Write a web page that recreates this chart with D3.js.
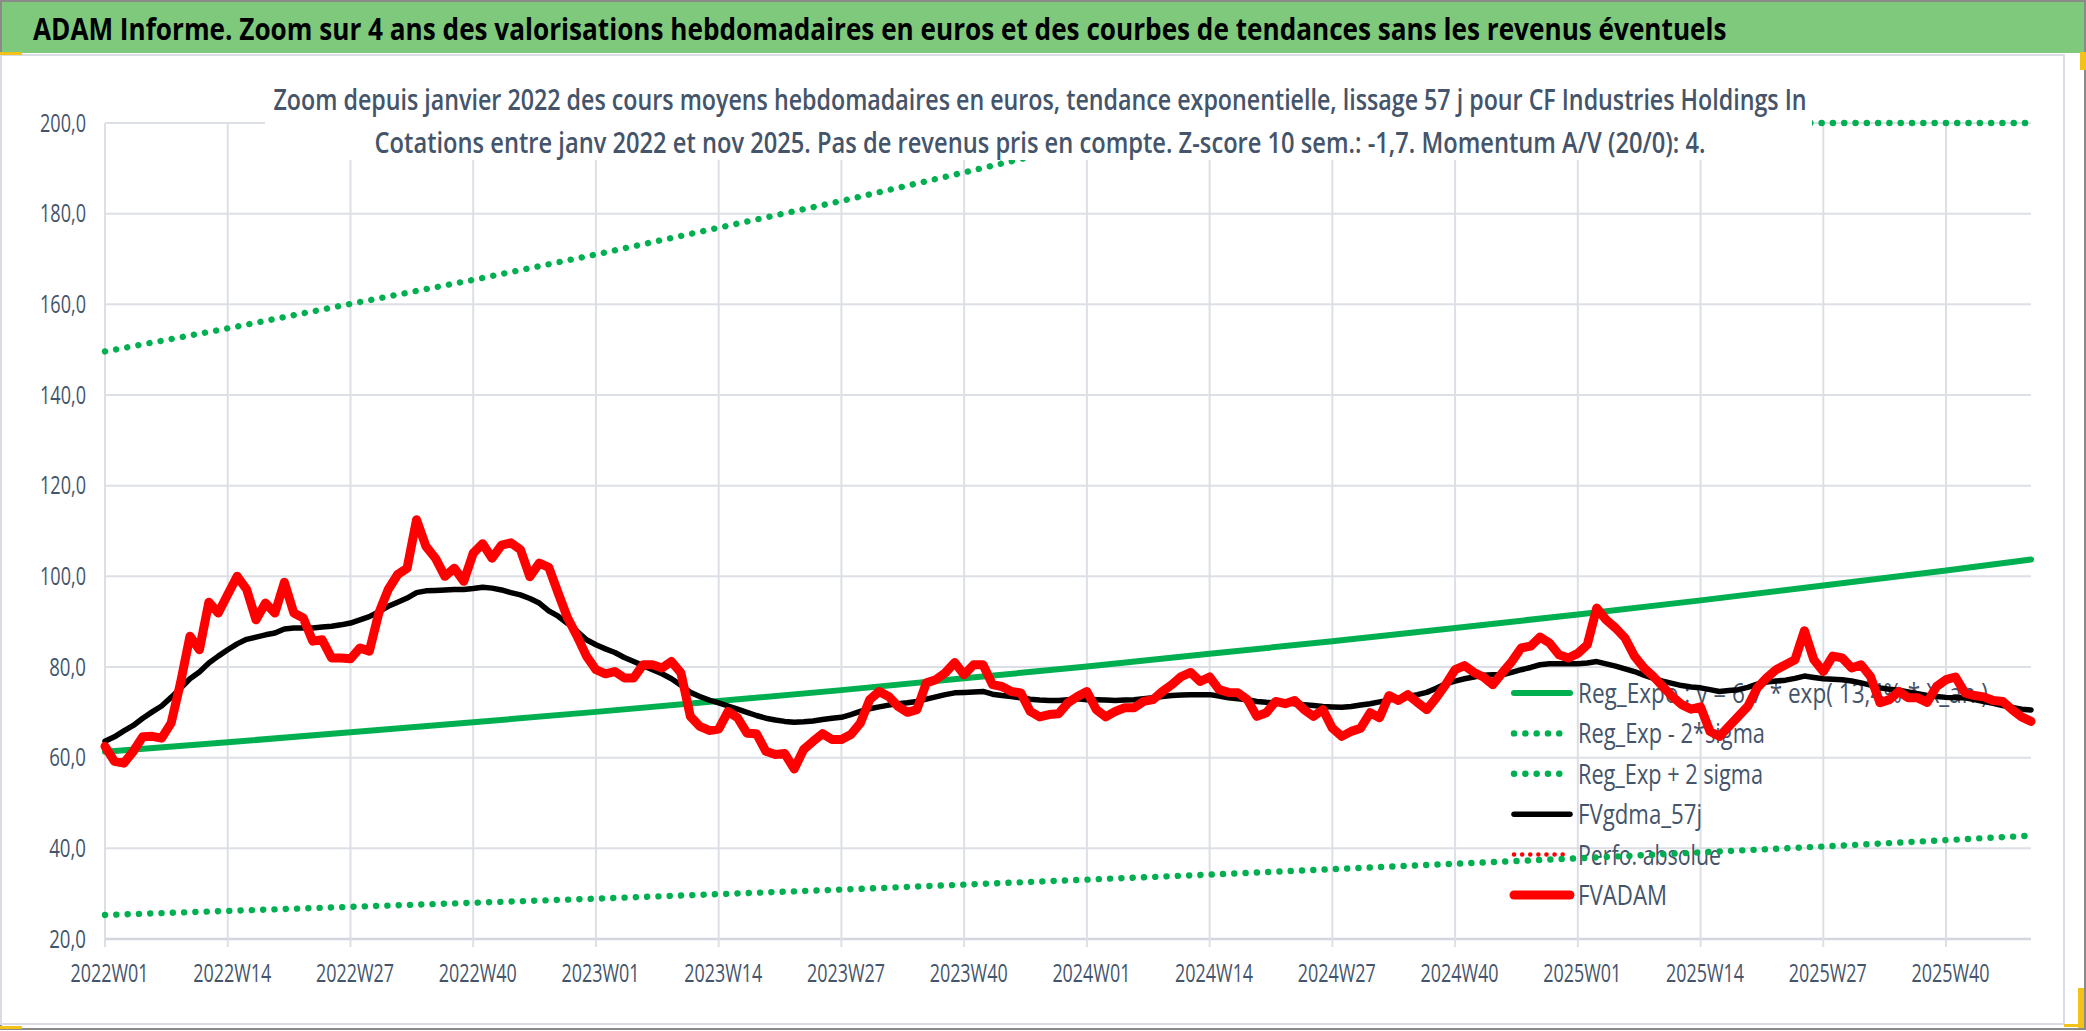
<!DOCTYPE html>
<html>
<head>
<meta charset="utf-8">
<script src="https://cdn.jsdelivr.net/npm/d3@7"></script>
<style>
  body { margin: 0; background: #fff; }
  text { font-family: "Liberation Sans Narrow", "Open Sans", sans-serif; }
</style>
</head>
<body>
<svg id="chart" width="2086" height="1031"></svg>
<script>

// categories: ISO weeks from 2022W01 to 2025W49
var years = [2022, 2023, 2024, 2025];
var weeksInYear = [52, 52, 52, 49];

var weeks = [];
years.forEach(function(yr, k) {
  for (var w = 1; w <= weeksInYear[k]; w++) {
    weeks.push(yr + "W" + (w < 10 ? "0" : "") + w);
  }
});

// tick labels on the category axis
var tickLabels = ["2022W01", "2022W14", "2022W27", "2022W40",
                  "2023W01", "2023W14", "2023W27", "2023W40",
                  "2024W01", "2024W14", "2024W27", "2024W40",
                  "2025W01", "2025W14", "2025W27", "2025W40"];

var yTicks = [20, 40, 60, 80, 100, 120, 140, 160, 180, 200];

// weekly valuation (FVADAM)
var fvadam = [62.5, 59.2, 58.8, 61.4, 64.6, 64.7, 64.3, 67.6, 76.5, 86.8,
              83.8, 94.3, 91.9, 96.0, 100.0, 97.1, 90.4, 94.1, 91.9, 98.7,
              91.9, 90.8, 85.7, 86.0, 82.0, 82.0, 81.8, 84.2, 83.5, 91.9,
              97.1, 100.4, 101.8, 112.5, 106.6, 104.0, 100.0, 101.8, 98.9, 105.1,
              107.2, 104.0, 106.9, 107.4, 105.9, 99.9, 102.9, 102.0, 96.3, 90.8,
              86.8, 82.4, 79.4, 78.5, 79.0, 77.6, 77.6, 80.5, 80.5, 79.8,
              81.2, 78.7, 69.1, 66.9, 66.0, 66.3, 70.2, 68.8, 65.4, 65.3,
              61.4, 60.7, 60.9, 57.5, 61.8, 63.6, 65.3, 64.0, 64.0, 65.1,
              67.6, 72.8, 74.6, 73.5, 71.3, 70.0, 70.6, 76.5, 77.2, 78.7,
              81.0, 78.3, 80.5, 80.5, 76.1, 75.7, 74.6, 74.3, 70.2, 69.0,
              69.5, 69.7, 72.1, 73.5, 74.6, 70.6, 69.0, 70.2, 71.0, 71.0,
              72.4, 72.8, 74.6, 76.1, 77.9, 78.8, 76.8, 77.8, 75.0, 74.4,
              74.3, 72.8, 69.1, 69.9, 72.4, 71.9, 72.6, 70.6, 69.1, 70.6,
              66.5, 64.7, 65.8, 66.5, 69.9, 68.8, 73.7, 72.6, 73.9, 72.2,
              70.6, 73.2, 76.1, 79.4, 80.3, 78.8, 77.8, 76.1, 78.7, 81.2,
              84.2, 84.6, 86.6, 85.3, 82.7, 82.0, 83.0, 84.9, 93.0, 90.4,
              88.6, 86.4, 82.4, 79.8, 77.9, 75.7, 73.5, 71.7, 70.7, 71.2,
              65.8, 64.7, 66.9, 69.1, 71.3, 75.4, 77.6, 79.4, 80.5, 81.6,
              88.0, 81.6, 79.0, 82.4, 82.0, 79.8, 80.5, 77.9, 72.1, 72.8,
              74.6, 73.2, 73.2, 72.2, 75.7, 77.2, 77.8, 74.3, 73.7, 73.4,
              72.6, 72.4, 70.6, 69.0, 68.0];

// smoothed 57 days (FVgdma_57j)
var fvgdma = [63.6, 64.6, 65.9, 67.1, 68.7, 70.1, 71.4, 73.3, 75.3, 77.4,
              78.9, 80.9, 82.4, 83.8, 85.1, 86.1, 86.6, 87.1, 87.5, 88.4,
              88.6, 88.6, 88.6, 88.8, 89.0, 89.3, 89.7, 90.4, 91.1, 92.2,
              93.4, 94.3, 95.2, 96.4, 96.8, 96.9, 97.0, 97.1, 97.1, 97.3,
              97.6, 97.4, 97.0, 96.4, 95.9, 95.1, 94.1, 92.4, 91.2, 89.6,
              87.9, 86.0, 84.9, 84.0, 83.2, 82.1, 81.2, 80.3, 79.4, 78.5,
              77.4, 76.0, 74.4, 73.5, 72.7, 72.1, 71.4, 70.7, 70.0, 69.3,
              68.7, 68.3, 68.0, 67.8, 67.9, 68.1, 68.4, 68.7, 68.9, 69.5,
              70.2, 70.8, 71.2, 71.6, 71.9, 72.1, 72.4, 72.9, 73.4, 73.9,
              74.3, 74.4, 74.5, 74.6, 74.0, 73.7, 73.5, 73.2, 72.9, 72.7,
              72.6, 72.6, 72.8, 73.0, 72.8, 72.8, 72.7, 72.6, 72.7, 72.8,
              73.0, 73.2, 73.5, 73.7, 73.8, 73.9, 73.9, 73.9, 73.6, 73.2,
              73.0, 72.8, 72.4, 72.2, 72.1, 72.1, 71.9, 71.7, 71.5, 71.3,
              71.2, 71.1, 71.3, 71.6, 71.9, 72.3, 72.7, 73.1, 73.5, 73.9,
              74.4, 75.3, 76.3, 76.9, 77.4, 77.8, 78.2, 78.3, 78.3, 78.8,
              79.4, 79.9, 80.5, 80.7, 80.7, 80.7, 80.7, 80.9, 81.2, 80.7,
              80.2, 79.6, 79.0, 78.2, 77.5, 76.9, 76.4, 75.9, 75.6, 75.4,
              75.0, 74.6, 74.8, 75.0, 75.5, 76.2, 76.7, 76.9, 77.1, 77.5,
              78.0, 77.7, 77.4, 77.3, 77.2, 76.9, 76.5, 76.0, 75.4, 75.1,
              74.9, 74.5, 74.1, 73.7, 73.5, 73.3, 73.2, 73.2, 72.8, 72.4,
              72.0, 71.5, 71.1, 70.7, 70.5];

// trend curves, read at every tick week plus the last week
var trendWeeks = tickLabels.concat(["2025W49"]);
var regExpo = [61.3, 63.4, 65.6, 67.8, 70.1, 72.5, 74.9, 77.5, 80.1,
               82.9, 85.7, 88.6, 91.6, 94.7, 98.0, 101.3, 103.7];
var regLow  = [25.3, 26.2, 27.1, 28.0, 28.9, 29.9, 30.9, 32.0, 33.1,
               34.2, 35.4, 36.6, 37.8, 39.1, 40.4, 41.8, 42.8];
var regHigh = [149.6, 154.7, 160.1, 165.4, 171.0, 176.9, 182.8, 189.1, 195.5,
               200, 200, 200, 200, 200, 200, 200, 200];
var perfoAbs = [];   // no visible point in the picture

var legendLabels = ["Reg_Expo : y = 6,7 * exp( 13,4% * X_an )",
                    "Reg_Exp - 2*sigma",
                    "Reg_Exp + 2 sigma",
                    "FVgdma_57j",
                    "Perfo. absolue",
                    "FVADAM"];

var titleText = "ADAM Informe. Zoom sur 4 ans des valorisations hebdomadaires en euros et des courbes de tendances sans les revenus éventuels";
var subLines = ["Zoom depuis janvier 2022 des cours moyens hebdomadaires en euros, tendance exponentielle, lissage 57 j pour CF Industries Holdings In",
                "Cotations entre janv 2022 et nov 2025. Pas de revenus pris en compte. Z-score 10 sem.: -1,7. Momentum A/V (20/0): 4."];


// squeeze a text horizontally to a given width around its anchor x
function squeeze(sel, anchorX, width) {
  sel.each(function() {
    var natural = this.getComputedTextLength();
    if (natural > width) {
      var s = width / natural;
      d3.select(this).attr("transform",
        "translate(" + anchorX + ",0) scale(" + s + ",1) translate(" + (-anchorX) + ",0)");
    }
  });
}

window.onload = function() {

  var pad = { left: 105, right: 2031, top: 123, bottom: 939 };
  var textCol = "#44546A";
  var gridCol = "#DCE0E6";
  var green = "#00B050";

  var svg = d3.select("#chart");

  // outer frame + title band
  svg.append("rect").attr("x", 1).attr("y", 1).attr("width", 2084).attr("height", 1028)
     .attr("fill", "#fff").attr("stroke", "#8A8A8A").attr("stroke-width", 2);
  svg.append("rect").attr("x", 2).attr("y", 2).attr("width", 2082).attr("height", 51)
     .attr("fill", "#7FC97C");
  svg.append("rect").attr("x", 1).attr("y", 55).attr("width", 2063).attr("height", 969)
     .attr("fill", "none").attr("stroke", "#D9DDE3").attr("stroke-width", 2);

  // little yellow selection marks
  var marks = [[0, 52, 22, 3], [2080, 52, 6, 18], [0, 1026, 22, 3],
               [2078, 988, 6, 40], [2064, 1024, 20, 3]];
  svg.selectAll("rect.mark").data(marks).enter().append("rect")
     .attr("class", "mark")
     .attr("x", function(d) { return d[0]; }).attr("y", function(d) { return d[1]; })
     .attr("width", function(d) { return d[2]; }).attr("height", function(d) { return d[3]; })
     .attr("fill", "#F2C21B");

  svg.append("text").text(titleText)
     .attr("x", 33).attr("y", 40)
     .attr("font-size", 30).attr("font-weight", "bold").attr("fill", "#000")
     .call(squeeze, 33, 1695);

  // scales
  var x = d3.scalePoint().domain(weeks).range([pad.left, pad.right]);
  var y = d3.scaleLinear().domain([20, 200]).range([pad.bottom, pad.top]);

  // gridlines
  svg.append("g").selectAll("line").data(yTicks).enter().append("line")
     .attr("x1", pad.left).attr("x2", pad.right)
     .attr("y1", function(d) { return y(d); }).attr("y2", function(d) { return y(d); })
     .attr("stroke", function(d) { return d === 20 ? "#D3D7DD" : gridCol; })
     .attr("stroke-width", function(d) { return d === 20 ? 2.5 : 2; });

  svg.append("g").selectAll("line").data(tickLabels).enter().append("line")
     .attr("x1", function(d) { return x(d); }).attr("x2", function(d) { return x(d); })
     .attr("y1", pad.top).attr("y2", pad.bottom + 8)
     .attr("stroke", gridCol).attr("stroke-width", 2);

  // axes
  var fr = d3.formatLocale({ decimal: ",", thousands: "\u00a0", grouping: [3], currency: ["", "€"] });
  var yFmt = fr.format(".1f");

  var xAxis = svg.append("g")
     .attr("transform", "translate(0," + pad.bottom + ")")
     .call(d3.axisBottom(x).tickValues(tickLabels).tickSize(0));
  xAxis.select(".domain").remove();
  xAxis.selectAll("text")
     .attr("y", 43).attr("dy", 0).attr("x", 4)
     .attr("font-size", 25).attr("fill", textCol)
     .attr("textLength", 78).attr("lengthAdjust", "spacingAndGlyphs");

  var yAxis = svg.append("g")
     .attr("transform", "translate(86,0)")
     .call(d3.axisLeft(y).tickValues(yTicks).tickFormat(yFmt).tickSize(0).tickPadding(0));
  yAxis.select(".domain").remove();
  yAxis.selectAll("text")
     .attr("x", 0).attr("dy", 8)
     .attr("font-size", 25).attr("fill", textCol)
     .attr("textLength", function(d) { return yFmt(d).length * 9.2; })
     .attr("lengthAdjust", "spacingAndGlyphs");
  xAxis.attr("font-family", null);
  yAxis.attr("font-family", null);

  // legend (sits under the curves)
  var legendStyle = [
    { color: green, width: 6, dash: null },
    { color: green, width: 6.4, dash: "0.1 11.2" },
    { color: green, width: 6.4, dash: "0.1 11.2" },
    { color: "#000", width: 5.5, dash: null },
    { color: "#FF0000", width: 4.5, dash: "0.1 8" },
    { color: "#FF0000", width: 9, dash: null }
  ];
  var leg = svg.append("g").selectAll("g").data(legendLabels).enter().append("g")
     .attr("transform", function(d, i) { return "translate(1511," + (693 + i * 40.4) + ")"; });
  leg.append("line")
     .attr("x1", 3).attr("x2", 59).attr("y1", 0).attr("y2", 0)
     .attr("stroke", function(d, i) { return legendStyle[i].color; })
     .attr("stroke-width", function(d, i) { return legendStyle[i].width; })
     .attr("stroke-dasharray", function(d, i) { return legendStyle[i].dash; })
     .attr("stroke-linecap", "round");
  var legWidths = [410, 187, 185, 124, 143, 89];
  leg.append("text").text(function(d) { return d; })
     .attr("x", 67).attr("y", 10)
     .attr("font-size", 27).attr("fill", textCol)
     .attr("textLength", function(d, i) { return legWidths[i]; })
     .attr("lengthAdjust", "spacingAndGlyphs");

  // series
  var line = d3.line()
     .x(function(d) { return x(d.w); })
     .y(function(d) { return y(Math.min(d.v, 200)); });

  function pairs(cats, vals) {
    return vals.map(function(v, i) { return { w: cats[i], v: v }; });
  }

  var series = [
    { data: pairs(trendWeeks, regLow),  color: green, width: 6.4, dash: "0.1 11.2" },
    { data: pairs(trendWeeks, regHigh), color: green, width: 6.4, dash: "0.1 11.2" },
    { data: pairs(trendWeeks, regExpo), color: green, width: 6, dash: null },
    { data: pairs(weeks, perfoAbs),     color: "#FF0000", width: 4.5, dash: "0.1 8" },
    { data: pairs(weeks, fvgdma),       color: "#000", width: 5.5, dash: null },
    { data: pairs(weeks, fvadam),       color: "#FF0000", width: 9, dash: null }
  ];

  svg.append("g").selectAll("path").data(series).enter().append("path")
     .attr("d", function(s) { return s.data.length ? line(s.data) : null; })
     .attr("fill", "none")
     .attr("stroke", function(s) { return s.color; })
     .attr("stroke-width", function(s) { return s.width; })
     .attr("stroke-dasharray", function(s) { return s.dash; })
     .attr("stroke-linecap", "round")
     .attr("stroke-linejoin", "round");

  // chart title box (white, covers what lies behind)
  svg.append("rect").attr("x", 265).attr("y", 60).attr("width", 1547).attr("height", 100)
     .attr("fill", "#fff");
  var subWidths = [1534, 1331];
  svg.append("g").selectAll("text").data(subLines).enter().append("text")
     .text(function(d) { return d; })
     .attr("x", 1040).attr("y", function(d, i) { return 110 + i * 43; })
     .attr("text-anchor", "middle")
     .attr("font-size", 29).attr("font-weight", 600).attr("fill", textCol)
     .each(function(d, i) { d3.select(this).call(squeeze, 1040, subWidths[i]); });

};
</script>
</body>
</html>
